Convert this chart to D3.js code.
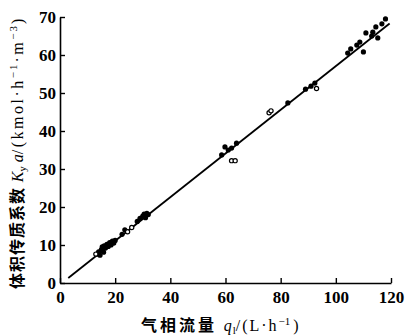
<!DOCTYPE html>
<html>
<head>
<meta charset="utf-8">
<script src="https://cdn.jsdelivr.net/npm/d3@7"></script>
<style>
  body { margin: 0; background: #fff; }
  svg text { fill: #000; }
</style>
</head>
<body>
<div id="chart"></div>
<script>
var qFilled = [13.5,14,14.5,15,15.3,15.8,16,16.5,17,17.5,18,18.5,19,19.5,20,
               22.5,23.5,28,29,30,30.5,31,31.5,32,
               58.6,59.8,61,62.2,64,82.6,89,91,92.4,
               104.3,105.4,107.6,108.7,110,110.9,113,113.4,114.5,115.2,116.7,118];
var kFilled = [7.6,8.2,7.3,8.8,9.5,8.1,9.8,9.2,10.2,9.6,10.6,10.0,11.0,10.5,11.2,
               12.8,14.0,16.2,17.0,17.6,18.1,17.2,18.3,18.0,
               33.7,35.8,35.0,35.5,36.8,47.4,51.0,51.8,52.6,
               60.5,61.6,62.6,63.4,60.8,65.8,65.0,66.0,67.4,64.5,68.2,69.5];
var qOpen = [13, 24.5, 26, 62.2, 63.5, 75.8, 76.5, 93];
var kOpen = [7.6, 13.5, 14.6, 32.2, 32.2, 44.8, 45.3, 51.2];

// fitted line end points
var lineQ = [3, 119.5];
var lineK = [1.3, 68.3];

var xTicks = [0, 20, 40, 60, 80, 100, 120];
var yTicks = [0, 10, 20, 30, 40, 50, 60, 70];

var W = 406, H = 336;
var svg = d3.select("#chart").append("svg")
    .attr("width", W).attr("height", H);

var x = d3.scaleLinear().domain([0, 120]).range([60, 391]);
var y = d3.scaleLinear().domain([0, 70]).range([283, 17]);

var numFont = "'Liberation Serif', 'DejaVu Serif', serif";
var cjkFont = "'Noto Sans CJK SC'";

svg.append("g")
    .attr("transform", "translate(0," + y(0) + ")")
    .call(d3.axisBottom(x).tickValues(xTicks).tickSizeInner(-5).tickSizeOuter(0).tickPadding(8))
    .call(g => g.select(".domain").attr("stroke-width", 1.6))
    .call(g => g.selectAll(".tick line").attr("stroke-width", 1.4))
    .call(g => g.selectAll("text").attr("font-family", numFont).attr("font-size", 17).attr("font-weight", "bold"));

svg.append("g")
    .attr("transform", "translate(" + x(0) + ",0)")
    .call(d3.axisLeft(y).tickValues(yTicks).tickSizeInner(-5).tickSizeOuter(0).tickPadding(4))
    .call(g => g.select(".domain").attr("stroke-width", 1.6))
    .call(g => g.selectAll(".tick line").attr("stroke-width", 1.4))
    .call(g => g.selectAll("text").attr("font-family", numFont).attr("font-size", 17).attr("font-weight", "bold"));

// regression line
svg.append("line")
    .attr("x1", x(lineQ[0])).attr("y1", y(lineK[0]))
    .attr("x2", x(lineQ[1])).attr("y2", y(lineK[1]))
    .attr("stroke", "#000").attr("stroke-width", 1.8);

svg.append("g").selectAll("circle")
    .data(d3.range(qFilled.length))
    .enter().append("circle")
      .attr("cx", function(i) { return x(qFilled[i]); })
      .attr("cy", function(i) { return y(kFilled[i]); })
      .attr("r", 2.6)
      .attr("fill", "#000");

svg.append("g").selectAll("circle")
    .data(d3.range(qOpen.length))
    .enter().append("circle")
      .attr("cx", function(i) { return x(qOpen[i]); })
      .attr("cy", function(i) { return y(kOpen[i]); })
      .attr("r", 2.1)
      .attr("fill", "#fff")
      .attr("stroke", "#000")
      .attr("stroke-width", 1.2);

// x title
var xt = svg.append("text")
    .attr("x", 141).attr("y", 331)
    .attr("font-size", 16);
xt.append("tspan").attr("font-family", cjkFont).attr("font-weight", "bold").attr("letter-spacing", 3).text("气相流量 ");
xt.append("tspan").attr("font-family", numFont).attr("font-style", "italic").attr("letter-spacing", 1).text("q");
xt.append("tspan").attr("font-family", numFont).attr("font-size", 11).attr("dy", 3).text("l");
xt.append("tspan").attr("font-family", numFont).attr("dy", -3).attr("letter-spacing", 2).text("/(L·h");
xt.append("tspan").attr("font-family", numFont).attr("font-size", 11).attr("dy", -6).text("−1");
xt.append("tspan").attr("font-family", numFont).attr("dy", 6).attr("dx", 3).text(")");

// y title
var yt = svg.append("text")
    .attr("transform", "translate(23,289) rotate(-90)")
    .attr("font-size", 16);
yt.append("tspan").attr("font-family", cjkFont).attr("font-weight", "bold").attr("letter-spacing", 1).text("体积传质系数 ");
yt.append("tspan").attr("font-family", numFont).attr("font-style", "italic").text("K");
yt.append("tspan").attr("font-family", numFont).attr("font-size", 11).attr("dy", 3).text("y");
yt.append("tspan").attr("font-family", numFont).attr("font-style", "italic").attr("dy", -3).text(" a");
yt.append("tspan").attr("font-family", numFont).attr("letter-spacing", 2.5).text("/(kmol·h");
yt.append("tspan").attr("font-family", numFont).attr("font-size", 11).attr("dy", -6).attr("letter-spacing", 2).text("−1");
yt.append("tspan").attr("font-family", numFont).attr("dy", 6).attr("letter-spacing", 2.5).text("·m");
yt.append("tspan").attr("font-family", numFont).attr("font-size", 11).attr("dy", -6).attr("letter-spacing", 2).text("−3");
yt.append("tspan").attr("font-family", numFont).attr("dy", 6).text(")");
</script>
</body>
</html>
